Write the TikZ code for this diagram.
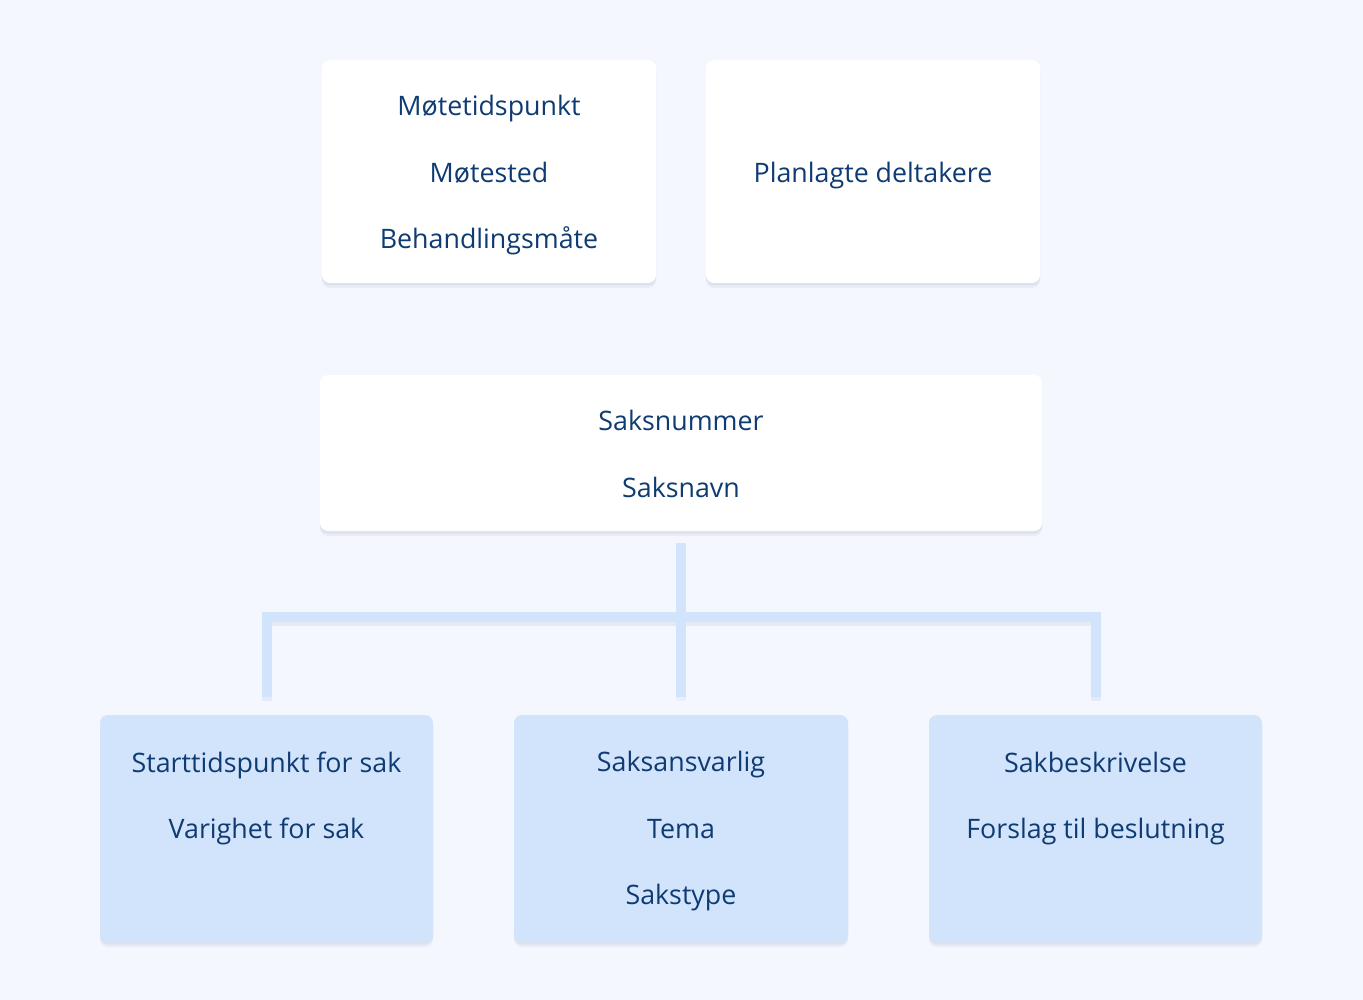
\documentclass[tikz,border=0pt]{standalone}
\usepackage{fontspec}
\setmainfont{Open Sans}
\usetikzlibrary{shadows}
\definecolor{bgc}{HTML}{F4F7FE}
\definecolor{txt}{HTML}{0F3B73}
\definecolor{lblue}{HTML}{D2E3FC}
\definecolor{shc}{HTML}{8A94B8}
\newcommand\mytopstrut[1]{\rule{0pt}{#1}}
\tikzset{
  card/.style={rectangle, rounded corners=8pt, draw=none, align=center, text=txt,
    font=\fontsize{26.8}{66.5}\selectfont,
    drop shadow={shadow xshift=0pt, shadow yshift=-5pt, opacity=0.10, fill=shc},
    drop shadow={shadow xshift=0pt, shadow yshift=-2.5pt, opacity=0.12, fill=shc}},
  whitecard/.style={card, fill=white},
  bluecard/.style={card, fill=lblue},
  conn/.style={draw=lblue, line width=10.6pt, line join=miter, line cap=butt},
  connshadow/.style={draw=shc, opacity=0.13, line width=10.6pt, line join=miter, line cap=butt,
    transform canvas={yshift=-4pt}}
}
\begin{document}
\begin{tikzpicture}[x=1pt,y=1pt]
\fill[bgc] (0,0) rectangle (1363,-1000);
\useasboundingbox (0,0) rectangle (1363,-1000);

\node[whitecard, minimum width=334pt, minimum height=223pt] (a) at (489,-171.5)
  {\mytopstrut{28.4pt}Møtetidspunkt\\Møtested\\Behandlingsmåte};
\node[whitecard, minimum width=334pt, minimum height=223pt] (b) at (873,-171.5)
  {\mytopstrut{28.4pt}Planlagte deltakere};
\node[whitecard, minimum width=722pt, minimum height=156pt] (c) at (681,-453)
  {\mytopstrut{22.4pt}Saksnummer\\Saksnavn};

\node[bluecard, minimum width=333pt, minimum height=227pt] (e1) at (266.5,-828.5)
  {Starttidspunkt for sak\\Varighet for sak\\\mbox{}};
\node[bluecard, minimum width=334pt, minimum height=227pt] (e2) at (681,-828.5)
  {\mytopstrut{26.4pt}Saksansvarlig\\Tema\\Sakstype};
\node[bluecard, minimum width=333pt, minimum height=227pt] (e3) at (1095.5,-828.5)
  {Sakbeskrivelse\\Forslag til beslutning\\\mbox{}};

\coordinate (h1) at (267,-617);
\coordinate (h2) at (1096,-617);

\draw[connshadow]
  ([xshift=0.5pt,yshift=18pt]e1.north) -- (h1) -- (h2) -- ([xshift=0.5pt,yshift=18pt]e3.north);
\draw[conn]
  ([xshift=0.5pt,yshift=18pt]e1.north) -- (h1) -- (h2) -- ([xshift=0.5pt,yshift=18pt]e3.north);
\draw[connshadow, opacity=0.08, shorten <=12pt, shorten >=18pt] (c.south) -- (e2.north);
\draw[conn, shorten <=12pt, shorten >=18pt] (c.south) -- (e2.north);
\end{tikzpicture}
\end{document}
